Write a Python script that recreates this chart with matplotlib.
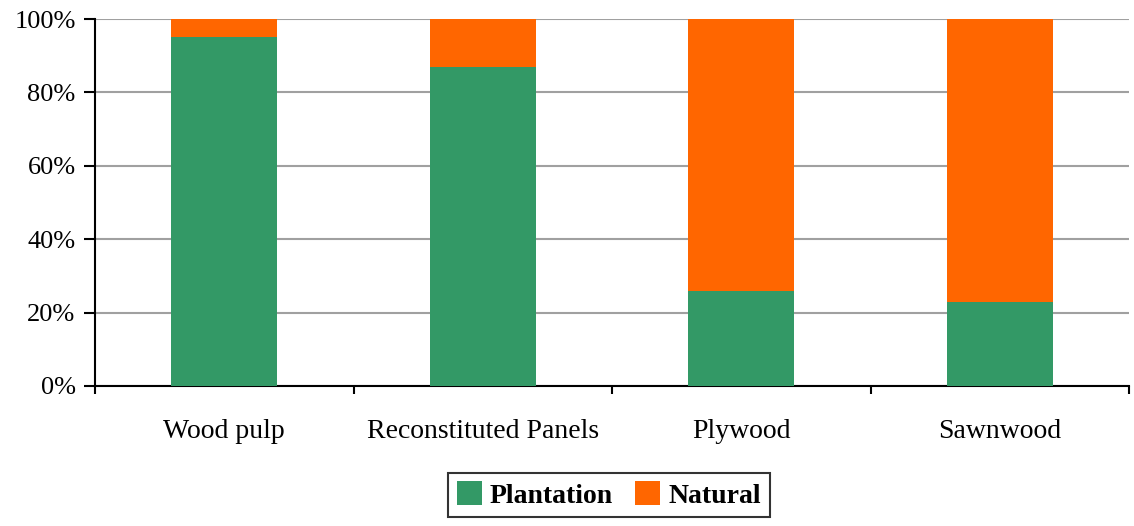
import matplotlib
matplotlib.use("Agg")
import matplotlib.pyplot as plt
import numpy as np
from matplotlib.ticker import FixedLocator, NullFormatter

categories = ["Wood pulp", "Reconstituted Panels", "Plywood", "Sawnwood"]
plantation = [95, 87, 26, 23]
natural = [5, 13, 74, 77]
yticks = [0, 20, 40, 60, 80, 100]
ytick_labels = ["0%", "20%", "40%", "60%", "80%", "100%"]

plt.rcParams['font.family'] = ['Liberation Serif', 'DejaVu Serif']

green = "#339966"
orange = "#FF6600"

fig = plt.figure(figsize=(11.34, 5.26), dpi=100)
ax = fig.add_axes([95/1134, 140/526, 1034/1134, 367/526])

x = np.arange(len(categories))
ax.bar(x, plantation, width=0.41, color=green, label="Plantation", zorder=3)
ax.bar(x, natural, width=0.41, bottom=plantation, color=orange, label="Natural", zorder=3)

ax.set_xlim(-0.5, len(categories) - 0.5)
ax.set_ylim(0, 100)
ax.set_yticks(yticks)
ax.set_yticklabels(ytick_labels, fontsize=19)
ax.set_xticks(x)
ax.set_xticklabels(categories, fontsize=20)
ax.tick_params(axis='x', length=0, pad=24)
ax.xaxis.set_minor_locator(FixedLocator(np.arange(-0.5, len(categories), 1.0)))
ax.xaxis.set_minor_formatter(NullFormatter())
ax.tick_params(axis='x', which='minor', length=6, width=1.5, direction='out')
ax.tick_params(axis='y', length=8, width=1.5, direction='out', pad=6)

ax.grid(axis='y', color='#a0a0a0', linewidth=1.5, zorder=0)
for s in ['top', 'right']:
    ax.spines[s].set_visible(False)
ax.spines['left'].set_linewidth(1.5)
ax.spines['bottom'].set_linewidth(1.5)

leg = fig.legend(loc='center', bbox_to_anchor=(609/1134, 1 - 495/526), ncol=2,
                 prop={'weight': 'bold', 'size': 20}, frameon=True, fancybox=False,
                 handlelength=0.9, handleheight=0.9, handletextpad=0.3, columnspacing=0.8,
                 borderpad=0.3, edgecolor='black')
leg.get_frame().set_linewidth(1.5)

fig.savefig("out.png", dpi=100)
